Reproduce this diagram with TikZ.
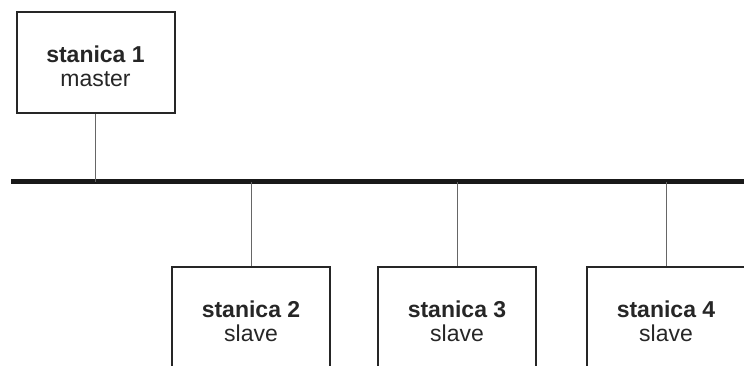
\documentclass[tikz,border=0pt]{standalone}
\usepackage{fontspec}
\setmainfont{Liberation Sans}
\usepackage{tikz}

\begin{document}
\begin{tikzpicture}[x=1pt,y=-1pt,
    station/.style={rectangle,draw=black!85,line width=2pt,minimum width=158pt,minimum height=101pt,
        align=center,inner sep=0pt,text=black!85,font=\fontsize{23}{24}\selectfont,
        text height=47.5pt,text depth=0pt},
    link/.style={draw=black!60,line width=1pt},
    busline/.style={draw=black!90,line width=5pt}]
    \useasboundingbox (0,0) rectangle (744,365);
    \clip (0,0) rectangle (744,365);
    \node[station] (st1) at (95.5,62.5) {\textbf{stanica 1}\\master};
    \node[station] (st2) at (251,317.5) {\textbf{stanica 2}\\slave};
    \node[station] (st3) at (457,317.5) {\textbf{stanica 3}\\slave};
    \node[station] (st4) at (666,317.5) {\textbf{stanica 4}\\slave};
    \coordinate (busL) at (11,181.5);
    \coordinate (busR) at (746,181.5);
    \draw[busline] (busL) -- (busR);
    \draw[link] (st1) -- (st1 |- busL);
    \draw[link] (st2) -- (st2 |- busL);
    \draw[link] (st3) -- (st3 |- busL);
    \draw[link] (st4) -- (st4 |- busL);
\end{tikzpicture}
\end{document}
